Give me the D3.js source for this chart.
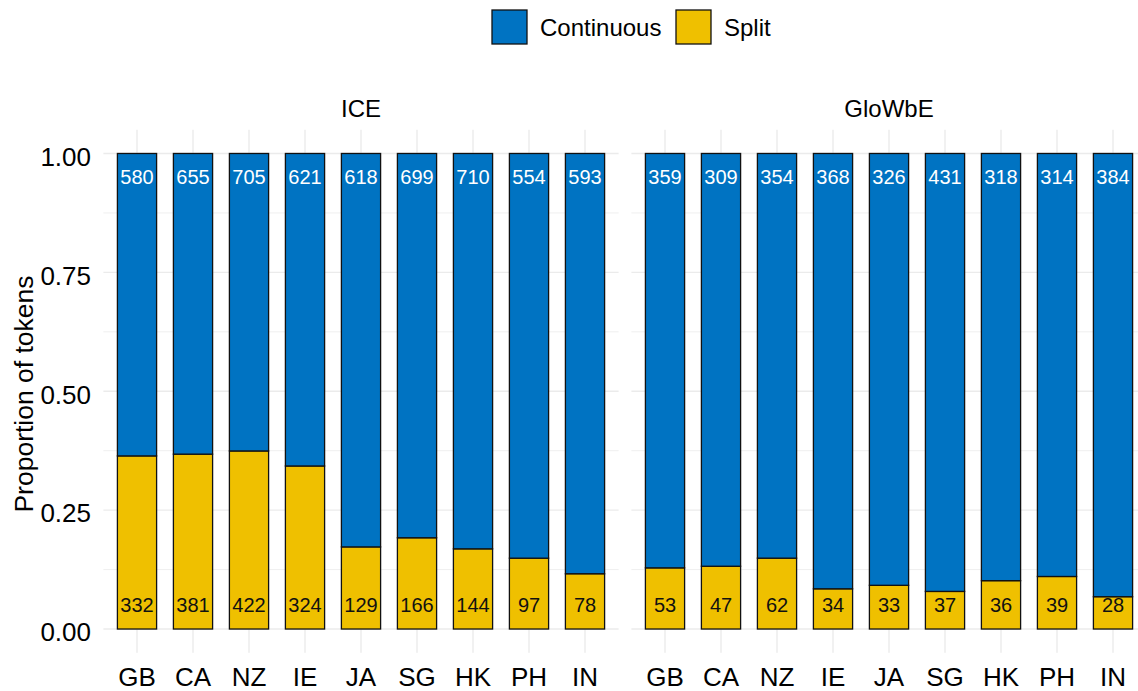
<!DOCTYPE html>
<meta charset="utf-8">
<head>
<style>
  body { margin: 0; background: #fff; }
  svg { display: block; font-family: "Liberation Sans", Arial, sans-serif; }
  .grid line { stroke: #ebebeb; }
  .tick-lbl { font-size: 26px; fill: #000; }
  .count { font-size: 20px; text-anchor: middle; }
</style>
</head>
<body>
<svg id="chart" width="1138" height="691"></svg>

<script src="https://d3js.org/d3.v7.min.js"></script>
<script>
  // data
  var categories = ["GB", "CA", "NZ", "IE", "JA", "SG", "HK", "PH", "IN"];
  var corpora = ["ICE", "GloWbE"];
  var iceContinuous = [580, 655, 705, 621, 618, 699, 710, 554, 593];
  var iceSplit      = [332, 381, 422, 324, 129, 166, 144, 97, 78];
  var glowbeContinuous = [359, 309, 354, 368, 326, 431, 318, 314, 384];
  var glowbeSplit      = [53, 47, 62, 34, 33, 37, 36, 39, 28];
  var seriesNames = ["Continuous", "Split"];
  var yTicks = [0, 0.25, 0.5, 0.75, 1];
  var yMinor = [0.125, 0.375, 0.625, 0.875];

  var colors = { Continuous: "#0073C2", Split: "#EFC000" };

  var svg = d3.select("#chart");

  // panel geometry (ggplot style facets)
  var panelTop = 129.7, panelBottom = 652.8;
  var panels = [
    { name: corpora[0], left: 103.4, right: 618.6, cont: iceContinuous, split: iceSplit },
    { name: corpora[1], left: 631.4, right: 1146.6, cont: glowbeContinuous, split: glowbeSplit }
  ];

  var y = d3.scaleLinear().domain([-0.05, 1.05]).range([panelBottom, panelTop]);

  panels.forEach(function (p) {
    var x = d3.scalePoint().domain(categories).range([p.left, p.right]).padding(0.6);
    var bw = x.step() * 0.7;

    var rows = categories.map(function (c, i) {
      var tot = p.cont[i] + p.split[i];
      return { cat: c, Split: p.split[i] / tot, Continuous: p.cont[i] / tot,
               nSplit: p.split[i], nCont: p.cont[i] };
    });
    var stacked = d3.stack().keys(["Split", "Continuous"])(rows);

    var g = svg.append("g");
    var grid = g.append("g").attr("class", "grid");

    grid.selectAll(".minor").data(yMinor).enter().append("line")
      .attr("x1", p.left).attr("x2", p.right)
      .attr("y1", function (d) { return y(d); }).attr("y2", function (d) { return y(d); })
      .attr("stroke-width", 0.8);
    grid.selectAll(".major").data(yTicks).enter().append("line")
      .attr("x1", p.left).attr("x2", p.right)
      .attr("y1", function (d) { return y(d); }).attr("y2", function (d) { return y(d); })
      .attr("stroke-width", 1.4);
    grid.selectAll(".vx").data(categories).enter().append("line")
      .attr("x1", function (d) { return x(d); }).attr("x2", function (d) { return x(d); })
      .attr("y1", panelTop).attr("y2", panelBottom)
      .attr("stroke-width", 1.4);

    // bars
    stacked.forEach(function (s) {
      g.selectAll(".bar-" + s.key).data(s).enter().append("rect")
        .attr("x", function (d) { return x(d.data.cat) - bw / 2; })
        .attr("width", bw)
        .attr("y", function (d) { return y(d[1]); })
        .attr("height", function (d) { return y(d[0]) - y(d[1]); })
        .attr("fill", colors[s.key])
        .attr("stroke", "#111")
        .attr("stroke-width", 1.3);
    });

    // counts
    g.selectAll(".cnt-top").data(rows).enter().append("text")
      .attr("class", "count")
      .attr("x", function (d) { return x(d.cat); })
      .attr("y", y(0.95)).attr("dy", "0.36em")
      .attr("fill", "#fff")
      .text(function (d) { return d.nCont; });
    g.selectAll(".cnt-bot").data(rows).enter().append("text")
      .attr("class", "count")
      .attr("x", function (d) { return x(d.cat); })
      .attr("y", y(0.05)).attr("dy", "0.36em")
      .attr("fill", "#111")
      .text(function (d) { return d.nSplit; });

    // x labels
    g.selectAll(".xl").data(categories).enter().append("text")
      .attr("class", "tick-lbl")
      .attr("x", function (d) { return x(d); })
      .attr("y", 677).attr("dy", "0.36em")
      .attr("text-anchor", "middle")
      .text(function (d) { return d; });

    // strip title
    g.append("text")
      .attr("x", (p.left + p.right) / 2).attr("y", 108).attr("dy", "0.36em")
      .attr("text-anchor", "middle")
      .style("font-size", "24px")
      .text(p.name);
  });

  // y axis labels
  svg.selectAll(".yl").data(yTicks).enter().append("text")
    .attr("class", "tick-lbl")
    .attr("x", 91)
    .attr("y", function (d) { return y(d) + 3; }).attr("dy", "0.36em")
    .attr("text-anchor", "end")
    .text(function (d) { return d.toFixed(2); });

  svg.append("text")
    .attr("transform", "translate(23,394) rotate(-90)")
    .attr("dy", "0.36em")
    .attr("text-anchor", "middle")
    .style("font-size", "26.5px")
    .text("Proportion of tokens");

  // legend
  var legX = [492, 676];
  var leg = svg.append("g");
  seriesNames.forEach(function (n, i) {
    leg.append("rect")
      .attr("x", legX[i]).attr("y", 10).attr("width", 35).attr("height", 34)
      .attr("fill", colors[n]).attr("stroke", "#111").attr("stroke-width", 1.3);
    leg.append("text")
      .attr("x", legX[i] + 48).attr("y", 27).attr("dy", "0.36em")
      .style("font-size", "24px")
      .text(n);
  });
</script>
</body>
